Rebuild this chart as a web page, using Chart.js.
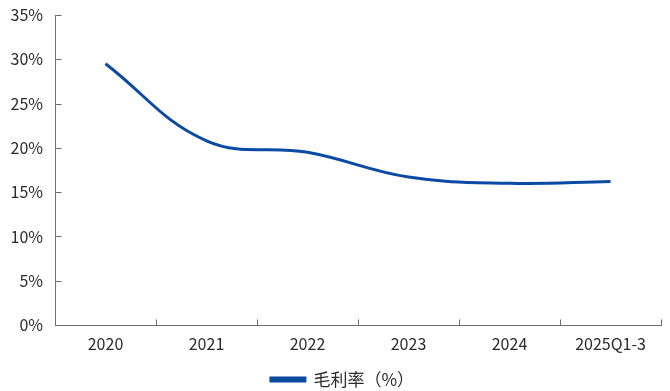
<!DOCTYPE html>
<html>
<head>
<meta charset="utf-8">
<script src="https://cdn.jsdelivr.net/npm/chart.js@4"></script>
<style>
  html, body { margin: 0; padding: 0; background: #fff; }
  #wrap { width: 670px; height: 391px; }
</style>
</head>
<body>
<div id="wrap"><canvas id="c" width="670" height="391"></canvas></div>
<script>
// Gross margin by period
const categories = ['2020', '2021', '2022', '2023', '2024', '2025Q1-3'];
const grossMargin = [29.5, 20.8, 19.5, 16.7, 16.0, 16.2];
const seriesLabel = '毛利率（%）';
const yTicks = [0, 5, 10, 15, 20, 25, 30, 35];

const FONT = '"Noto Sans CJK SC", "Noto Sans", sans-serif';
const TEXT = '#2b2b2b';
const AXIS = '#6e6e6e';
const LINE = '#0B4AA2';

// Short tick marks drawn inward from both axes
const innerTicks = {
  id: 'innerTicks',
  afterDatasetsDraw(chart) {
    const { ctx, scales: { x, y } } = chart;
    ctx.save();
    ctx.strokeStyle = AXIS;
    ctx.lineWidth = 1;
    ctx.beginPath();
    const ax = Math.round(y.right) + 0.5;
    yTicks.forEach(v => {
      if (v === 0) return;
      const py = Math.round(y.getPixelForValue(v)) + 0.5;
      ctx.moveTo(ax, py);
      ctx.lineTo(ax + 6, py);
    });
    const by = Math.round(x.top) + 0.5;
    const step = x.getPixelForValue(1) - x.getPixelForValue(0);
    for (let i = 0; i <= categories.length; i++) {
      const px = Math.round(x.getPixelForValue(i) - step / 2) + 0.5;
      ctx.moveTo(px, by);
      ctx.lineTo(px, by - 6);
    }
    ctx.stroke();
    ctx.restore();
  }
};

// Nudge the legend a little to the right of the canvas centre
const legendNudge = {
  id: 'legendNudge',
  afterLayout(chart) {
    const lg = chart.legend;
    if (lg) { lg.left += 10; lg.right += 10; }
  }
};

new Chart(document.getElementById('c'), {
  type: 'line',
  data: {
    labels: categories,
    datasets: [{
      label: seriesLabel,
      data: grossMargin,
      borderColor: LINE,
      backgroundColor: LINE,
      borderWidth: 3,
      pointRadius: 0,
      tension: 0.4,
      fill: false
    }]
  },
  plugins: [innerTicks, legendNudge],
  options: {
    responsive: false,
    animation: false,
    layout: { padding: { top: 15, right: 9, left: 4, bottom: -7 } },
    plugins: {
      tooltip: { enabled: false },
      legend: {
        position: 'bottom',
        labels: {
          font: { family: FONT, size: 17 },
          color: TEXT,
          boxWidth: 34,
          boxHeight: 3,
          padding: 1
        }
      }
    },
    scales: {
      x: {
        offset: true,
        border: { display: true, color: AXIS, width: 1 },
        grid: { display: false, drawTicks: false },
        ticks: { font: { family: FONT, size: 16 }, color: TEXT, padding: 9, maxRotation: 0 },
        afterFit: s => { s.height = 45; }
      },
      y: {
        min: 0,
        max: 35,
        border: { display: true, color: AXIS, width: 1 },
        grid: { display: false, drawTicks: false },
        ticks: {
          stepSize: 5,
          font: { family: FONT, size: 16 },
          color: TEXT,
          padding: 12,
          callback: v => v + '%'
        },
        afterFit: s => { s.width = 51; s.paddingTop = 0; s.paddingBottom = 0; }
      }
    }
  }
});
</script>
</body>
</html>
